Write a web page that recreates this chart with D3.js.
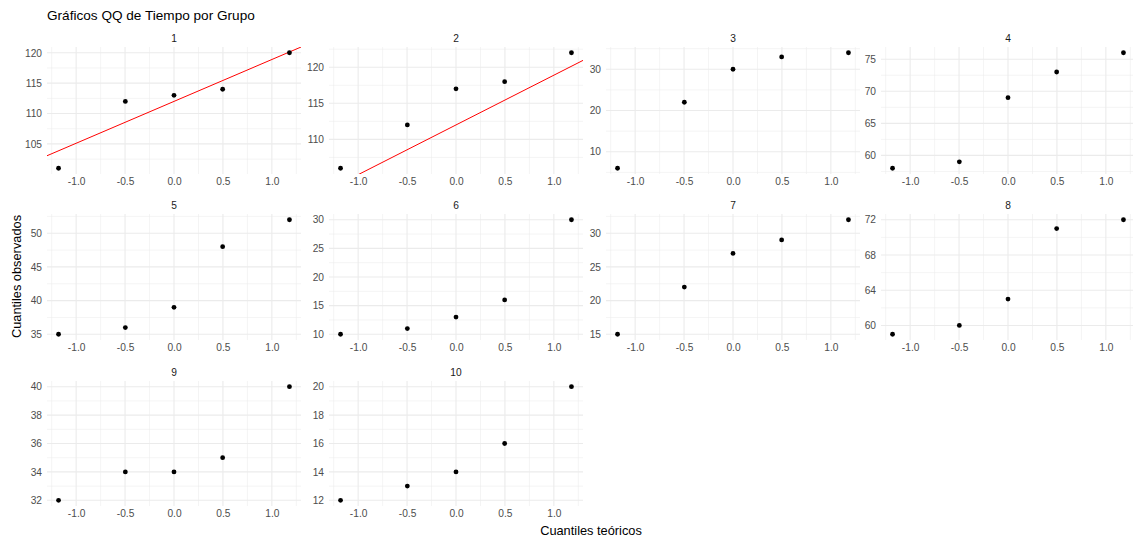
<!DOCTYPE html>
<html>
<head>
<meta charset="utf-8">
<script src="https://cdn.jsdelivr.net/npm/d3@7"></script>
<style>
  html, body { margin: 0; padding: 0; background: #fff; }
  svg { display: block; font-family: "Liberation Sans", Arial, sans-serif; }
</style>
</head>
<body>
<svg id="chart" width="1133" height="540"></svg>
<script>
// ---------------- DATA ----------------
const groups = ["1", "2", "3", "4", "5", "6", "7", "8", "9", "10"];
const theoretical = [-1.1798, -0.4972, 0, 0.4972, 1.1798];
const observed = [
  [101, 112, 113, 114, 120],
  [106, 112, 117, 118, 122],
  [6, 22, 30, 33, 34],
  [58, 59, 69, 73, 76],
  [35, 36, 39, 48, 52],
  [10, 11, 13, 16, 30],
  [15, 22, 27, 29, 32],
  [59, 60, 63, 71, 72],
  [32, 34, 34, 35, 40],
  [12, 13, 14, 16, 20]
];
const yTicks = [
  [105, 110, 115, 120],
  [110, 115, 120],
  [10, 20, 30],
  [60, 65, 70, 75],
  [35, 40, 45, 50],
  [10, 15, 20, 25, 30],
  [15, 20, 25, 30],
  [60, 64, 68, 72],
  [32, 34, 36, 38, 40],
  [12, 14, 16, 18, 20]
];
const xTicks = [-1.0, -0.5, 0.0, 0.5, 1.0];
const xTickLabels = ["-1.0", "-0.5", "0.0", "0.5", "1.0"];
// reference line: intercept = mean, slope = sd of group 1
const lineIntercept = d3.mean(observed[0]);
const lineSlope = d3.deviation(observed[0]);

const titleText = "Gráficos QQ de Tiempo por Grupo";
const xTitle = "Cuantiles teóricos";
const yTitle = "Cuantiles observados";

// ---------------- LAYOUT ----------------
const svg = d3.select("#chart");
const colLeft = [47, 329, 606, 881];
const panelW = 254;
const rowTop = [47, 214, 381];
const rowBottom = [174, 340, 506];
const ncol = 4;

const gridColor = "#ebebeb";

svg.append("text")
  .attr("x", 47).attr("y", 20)
  .attr("font-size", 13.6).attr("fill", "#000")
  .text(titleText);

const defs = svg.append("defs");

groups.forEach((g, i) => {
  const r = Math.floor(i / ncol), c = i % ncol;
  const x0 = colLeft[c], x1 = x0 + panelW;
  const y0 = rowTop[r], y1 = rowBottom[r];

  const xExt = d3.extent(theoretical);
  const xPad = (xExt[1] - xExt[0]) * 0.05;
  const x = d3.scaleLinear().domain([xExt[0] - xPad, xExt[1] + xPad]).range([x0, x1]);

  const yExt = d3.extent(observed[i]);
  const yPad = (yExt[1] - yExt[0]) * 0.05;
  const y = d3.scaleLinear().domain([yExt[0] - yPad, yExt[1] + yPad]).range([y1, y0]);

  const panel = svg.append("g");

  // minor grid
  const xt = xTicks, xStep = xt[1] - xt[0];
  const xMinor = [xt[0] - xStep / 2, ...xt.map(v => v + xStep / 2)]
    .filter(v => v >= x.domain()[0] && v <= x.domain()[1]);
  const yt = yTicks[i], yStep = yt[1] - yt[0];
  const yMinor = [yt[0] - yStep / 2, ...yt.map(v => v + yStep / 2)]
    .filter(v => v >= y.domain()[0] && v <= y.domain()[1]);

  panel.selectAll(".xminor").data(xMinor).enter().append("line")
    .attr("x1", d => x(d)).attr("x2", d => x(d))
    .attr("y1", y0).attr("y2", y1)
    .attr("stroke", gridColor).attr("stroke-width", 0.55);
  panel.selectAll(".yminor").data(yMinor).enter().append("line")
    .attr("x1", x0).attr("x2", x1)
    .attr("y1", d => y(d)).attr("y2", d => y(d))
    .attr("stroke", gridColor).attr("stroke-width", 0.55);

  // major grid
  panel.selectAll(".xmajor").data(xTicks).enter().append("line")
    .attr("x1", d => x(d)).attr("x2", d => x(d))
    .attr("y1", y0).attr("y2", y1)
    .attr("stroke", gridColor).attr("stroke-width", 1.1);
  panel.selectAll(".ymajor").data(yt).enter().append("line")
    .attr("x1", x0).attr("x2", x1)
    .attr("y1", d => y(d)).attr("y2", d => y(d))
    .attr("stroke", gridColor).attr("stroke-width", 1.1);

  // axes (text only, no lines/ticks)
  const xAxis = d3.axisBottom(x).tickValues(xTicks).tickSize(0).tickPadding(0)
    .tickFormat((d, k) => xTickLabels[k]);
  const gx = panel.append("g").attr("transform", `translate(0,${y1 + 4})`).call(xAxis);
  gx.select(".domain").remove();
  gx.selectAll("text").attr("font-size", 10.2).attr("fill", "#4d4d4d")
    .attr("font-family", "Liberation Sans, Arial, sans-serif").attr("dy", "0.71em");

  const yAxis = d3.axisLeft(y).tickValues(yt).tickSize(0).tickPadding(0)
    .tickFormat(d3.format("d"));
  const gy = panel.append("g").attr("transform", `translate(${x0 - 5},0)`).call(yAxis);
  gy.select(".domain").remove();
  gy.selectAll("text").attr("font-size", 10.2).attr("fill", "#4d4d4d")
    .attr("font-family", "Liberation Sans, Arial, sans-serif");

  // strip label
  svg.append("text")
    .attr("x", (x0 + x1) / 2).attr("y", y0 - 5)
    .attr("text-anchor", "middle")
    .attr("font-size", 10.2).attr("fill", "#1a1a1a")
    .text(g);

  // clip for the reference line
  const cid = "clip" + i;
  defs.append("clipPath").attr("id", cid).append("rect")
    .attr("x", x0).attr("y", y0).attr("width", panelW).attr("height", y1 - y0);

  const xd = x.domain();
  panel.append("line")
    .attr("clip-path", `url(#${cid})`)
    .attr("x1", x(xd[0])).attr("y1", y(lineIntercept + lineSlope * xd[0]))
    .attr("x2", x(xd[1])).attr("y2", y(lineIntercept + lineSlope * xd[1]))
    .attr("stroke", "red").attr("stroke-width", 1);

  // points
  panel.selectAll(".pt").data(observed[i]).enter().append("circle")
    .attr("cx", (d, k) => x(theoretical[k]))
    .attr("cy", d => y(d))
    .attr("r", 2.4)
    .attr("fill", "#000");
});

// axis titles
svg.append("text")
  .attr("x", (colLeft[0] + colLeft[3] + panelW) / 2).attr("y", 535)
  .attr("text-anchor", "middle").attr("font-size", 12.8).attr("fill", "#000")
  .text(xTitle);

svg.append("text")
  .attr("transform", `translate(21,${(rowTop[0] + rowBottom[2]) / 2}) rotate(-90)`)
  .attr("text-anchor", "middle").attr("font-size", 12.8).attr("fill", "#000")
  .text(yTitle);
</script>
</body>
</html>
